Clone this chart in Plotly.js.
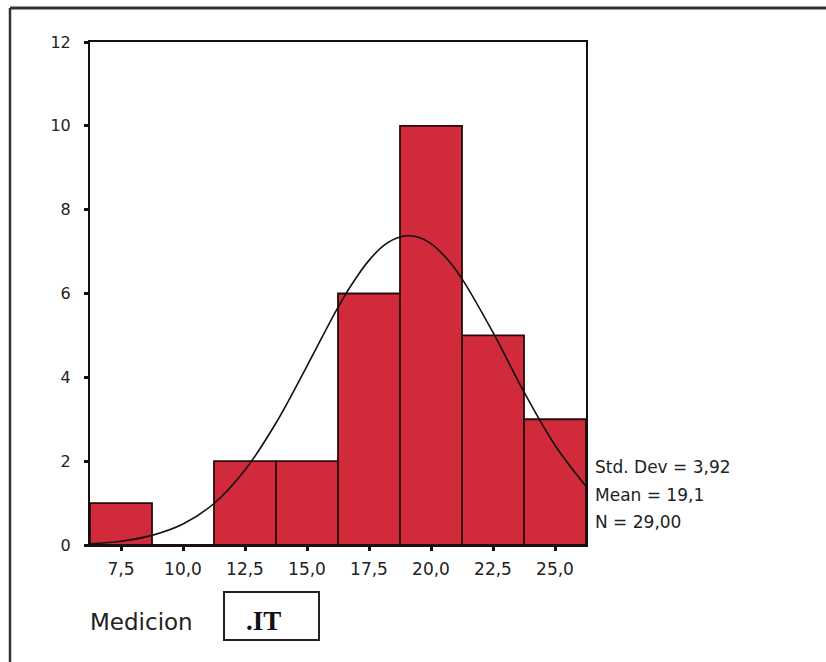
<!DOCTYPE html>
<html>
<head>
<meta charset="utf-8">
<script src="https://cdn.plot.ly/plotly-3.0.1.min.js"></script>
<style>
  html, body { margin: 0; padding: 0; background: #ffffff; }
  #chart { width: 826px; height: 662px; }
</style>
</head>
<body>
<div id="chart"></div>
<script>
// Histogram bins (centres, width 2.5) and counts
const binCenters = [7.5, 10.0, 12.5, 15.0, 17.5, 20.0, 22.5, 25.0];
const counts     = [1, 0, 2, 2, 6, 10, 5, 3];

// Tick labels (comma decimal)
const xTickVals   = [7.5, 10.0, 12.5, 15.0, 17.5, 20.0, 22.5, 25.0];
const xTickLabels = ["7,5", "10,0", "12,5", "15,0", "17,5", "20,0", "22,5", "25,0"];
const yTickVals   = [0, 2, 4, 6, 8, 10, 12];
const yTickLabels = ["0", "2", "4", "6", "8", "10", "12"];

// Normal curve, values
const curveX = [6.25, 7.5, 8.75, 10.0, 11.25, 12.5, 13.75, 15.0, 16.25, 16.875, 17.5, 18.125, 18.75, 19.375, 20.0, 20.625, 21.25, 22.5, 23.75, 25.0, 26.25];
const curveY = [0.03, 0.09, 0.23, 0.50, 0.99, 1.79, 2.91, 4.27, 5.67, 6.28, 6.79, 7.16, 7.35, 7.36, 7.19, 6.84, 6.35, 5.07, 3.65, 2.38, 1.40];

// Summary statistics
const statLines = ["Std. Dev = 3,92", "Mean = 19,1", "N = 29,00"];
const variableLabel = "Medicion";
const variableName = ".IT";

const textColor = "#222222";
const font = "DejaVu Sans, Liberation Sans, Arial, sans-serif";

const traces = [
  {
    type: "bar",
    x: binCenters,
    y: counts,
    width: 2.5,
    marker: { color: "#d02a3b", line: { color: "#2a0a0a", width: 1.8 } },
    hoverinfo: "skip"
  },
  {
    type: "scatter",
    mode: "lines",
    x: curveX,
    y: curveY,
    line: { color: "#111111", width: 1.6, shape: "spline", smoothing: 1 },
    hoverinfo: "skip"
  }
];

const statY = [0.155, 0.099, 0.045];
const annotations = statLines.map((t, i) => ({
  text: t, xref: "paper", yref: "paper", x: 1.014, y: statY[i],
  xanchor: "left", yanchor: "middle", showarrow: false,
  font: { family: font, size: 17, color: textColor }
}));
annotations.push({
  text: variableLabel, xref: "paper", yref: "paper", x: -0.004, y: -0.153,
  xanchor: "left", yanchor: "middle", showarrow: false,
  font: { family: font, size: 23, color: textColor }
});
annotations.push({
  text: "<b>" + variableName + "</b>", xref: "paper", yref: "paper", x: 0.35, y: -0.151,
  xanchor: "center", yanchor: "middle", showarrow: false,
  font: { family: "Liberation Serif, Times New Roman, serif", size: 27, color: "#111111" }
});

const layout = {
  width: 826, height: 662,
  margin: { l: 90, r: 240, t: 42, b: 117, pad: 0 },
  paper_bgcolor: "#ffffff",
  plot_bgcolor: "#ffffff",
  showlegend: false,
  bargap: 0,
  xaxis: {
    range: [6.25, 26.25],
    tickmode: "array", tickvals: xTickVals, ticktext: xTickLabels,
    showgrid: false, zeroline: false,
    showline: true, mirror: true, linecolor: "#111111", linewidth: 2,
    ticks: "outside", ticklen: 4, tickwidth: 3, tickcolor: "#111111",
    ticklabelstandoff: 4,
    tickfont: { family: font, size: 17, color: textColor },
    fixedrange: true
  },
  yaxis: {
    range: [0, 12],
    tickmode: "array", tickvals: yTickVals, ticktext: yTickLabels,
    showgrid: false, zeroline: false,
    showline: true, mirror: true, linecolor: "#111111", linewidth: 2,
    ticks: "outside", ticklen: 4, tickwidth: 3, tickcolor: "#111111",
    ticklabelstandoff: 10,
    tickfont: { family: font, size: 16, color: textColor },
    fixedrange: true
  },
  annotations: annotations,
  shapes: [
    // box around the variable name
    { type: "rect", xref: "paper", yref: "paper", x0: 0.2702, x1: 0.4617, y0: -0.1889, y1: -0.0934,
      line: { color: "#222222", width: 2 }, fillcolor: "rgba(0,0,0,0)" },
    // outer frame: top and left
    { type: "line", xref: "paper", yref: "paper", x0: -0.1613, x1: 1.5, y0: 1.0676, y1: 1.0676,
      line: { color: "#333333", width: 3 } },
    { type: "line", xref: "paper", yref: "paper", x0: -0.1613, x1: -0.1613, y0: -0.26, y1: 1.0676,
      line: { color: "#333333", width: 2.5 } }
  ]
};

Plotly.newPlot("chart", traces, layout, { staticPlot: true, displayModeBar: false });
</script>
</body>
</html>
